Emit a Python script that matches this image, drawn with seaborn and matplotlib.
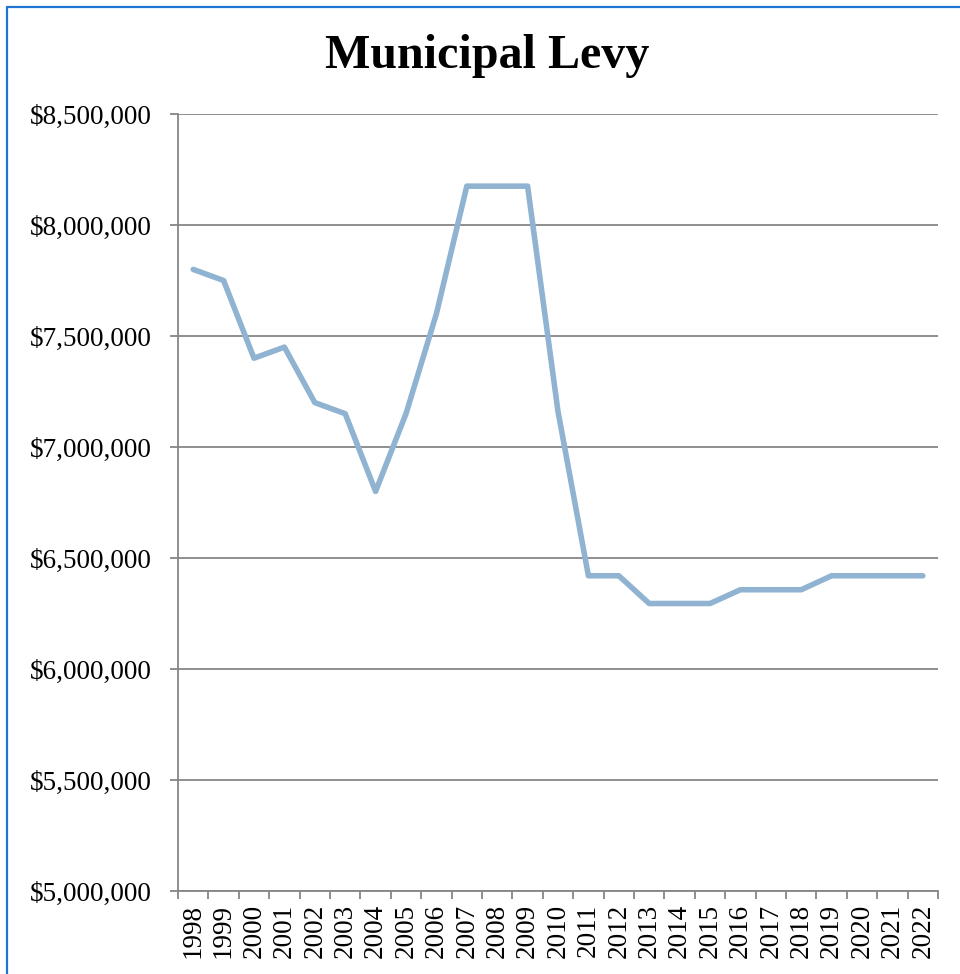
import numpy as np
import pandas as pd
import seaborn as sns
import matplotlib.pyplot as plt
import matplotlib.ticker as ticker
from matplotlib.lines import Line2D

years = [str(y) for y in range(1998, 2023)]
levy = [7800000, 7750000, 7400000, 7450000, 7200000, 7150000, 6800000,
        7150000, 7600000, 8175000, 8175000, 8175000, 7160000, 6420000,
        6420000, 6295000, 6295000, 6295000, 6357000, 6357000, 6357000,
        6420000, 6420000, 6420000, 6420000]

sns.set_style("white")
plt.rcParams['font.family'] = ['Liberation Serif', 'DejaVu Serif']
plt.rcParams['text.color'] = 'black'
plt.rcParams['xtick.color'] = 'black'
plt.rcParams['ytick.color'] = 'black'

df = pd.DataFrame({"pos": np.arange(len(years)), "levy": levy})

fig = plt.figure(figsize=(9.6, 9.74), dpi=100)
ax = fig.add_axes([178/960, 1-891/974, (938-178)/960, (891-114)/974])

sns.lineplot(data=df, x="pos", y="levy", ax=ax, color="#8FB3D0", linewidth=4)

grey = "#868686"
ax.set_ylim(5000000, 8500000)
ax.set_xlim(-0.5, len(years) - 0.5)
ax.yaxis.set_major_locator(ticker.MultipleLocator(500000))
ax.yaxis.set_major_formatter(ticker.FuncFormatter(lambda v, p: "${:,.0f}".format(v)))
ax.yaxis.grid(True, color=grey, linewidth=1.3)
ax.set_axisbelow(True)

ax.set_xticks(np.arange(len(years)))
ax.set_xticklabels(years, rotation=90)
ax.set_xticks(np.arange(len(years) + 1) - 0.5, minor=True)
ax.tick_params(axis="x", which="major", length=0, labelsize=19.5, labelcolor="black", pad=9)
ax.tick_params(axis="x", which="minor", length=6, width=1.3, color=grey, bottom=True)
ax.tick_params(axis="y", length=6, width=1.3, color=grey, labelsize=19.5, labelcolor="black",
               left=True, pad=13)
ax.set_xlabel("")
ax.set_ylabel("")

for s in ["top", "right"]:
    ax.spines[s].set_visible(False)
for s in ["left", "bottom"]:
    ax.spines[s].set_color(grey)
    ax.spines[s].set_linewidth(1.3)

fig.text(487/960, 1-56/974, "Municipal Levy", ha="center", va="center",
         fontsize=34.6, fontweight="bold", color="black")

# blue frame (top and left edges visible)
fig.add_artist(Line2D([7/960, 1], [1-6.5/974, 1-6.5/974], color="#1F74D4", linewidth=1.6,
                      transform=fig.transFigure))
fig.add_artist(Line2D([7/960, 7/960], [0, 1-6.5/974], color="#1F74D4", linewidth=1.6,
                      transform=fig.transFigure))

plt.savefig("out.png", dpi=100)
